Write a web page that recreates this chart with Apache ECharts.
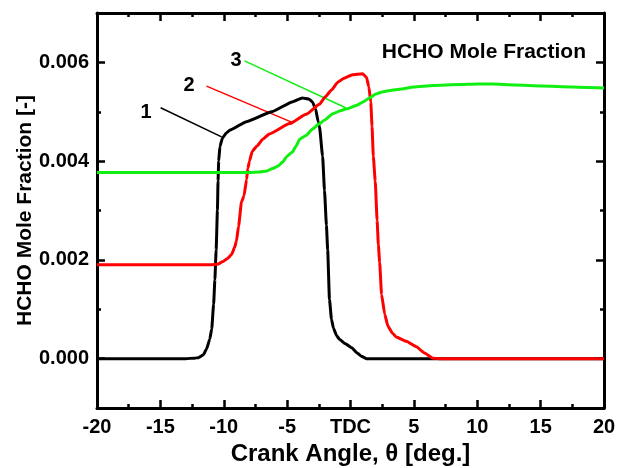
<!DOCTYPE html>
<html>
<head>
<meta charset="utf-8">
<script src="https://cdn.jsdelivr.net/npm/echarts@6/dist/echarts.min.js"></script>
<style>html,body{margin:0;padding:0;background:#fff;}#c{width:628px;height:468px;}</style>
</head>
<body>
<div id="c"></div>
<script>
// ---- data ----
var xTickLabelZero = 'TDC';
var yTickLabels = ['0.000', '0.002', '0.004', '0.006'];

var curve1 = [
  [-20, 0], [-13, 0], [-12.3, 0.00001], [-12.0, 0.00002], [-11.6, 0.00008], [-11.35, 0.0002],
  [-11.1, 0.0004], [-10.95, 0.0006], [-10.8, 0.0011], [-10.7, 0.0016], [-10.6, 0.0022],
  [-10.5, 0.0030], [-10.45, 0.0036], [-10.4, 0.0040], [-10.3, 0.0043], [-10.1, 0.00447],
  [-9.8, 0.00457], [-9.5, 0.00463], [-8.2, 0.0048], [-6.2, 0.0050], [-4.6, 0.0052],
  [-3.8, 0.00528], [-3.3, 0.00526], [-3.0, 0.0052], [-2.75, 0.00505], [-2.55, 0.0048],
  [-2.45, 0.0047], [-2.2, 0.0041], [-2.05, 0.0034], [-1.9, 0.0027], [-1.8, 0.0022],
  [-1.66, 0.0012], [-1.5, 0.0008], [-1.35, 0.00062], [-1.1, 0.00047], [-0.87, 0.00039],
  [-0.4, 0.0003], [0.1, 0.00022], [0.5, 0.00012], [0.85, 0.00005], [1.25, 0], [20, 0]
];
var curve2 = [
  [-20, 0.0019], [-11, 0.0019], [-10.5, 0.00191], [-10.1, 0.00196], [-9.7, 0.00203],
  [-9.38, 0.00211], [-9.15, 0.00225], [-9.0, 0.00238], [-8.83, 0.00268], [-8.6, 0.00317],
  [-8.4, 0.0033], [-8.2, 0.00363], [-8.1, 0.00385], [-7.97, 0.004], [-7.75, 0.0042],
  [-7.4, 0.0043], [-6.9, 0.00445], [-6.4, 0.00455], [-4.8, 0.00476], [-3.5, 0.00495],
  [-2.45, 0.00515], [-2.0, 0.0053], [-1.5, 0.00544], [-1.0, 0.0056], [-0.5, 0.00568],
  [0.16, 0.00575], [0.95, 0.00577], [1.26, 0.0057], [1.45, 0.0055], [1.6, 0.0052],
  [1.7, 0.0047], [1.8, 0.0041], [1.95, 0.0036], [2.1, 0.0028], [2.2, 0.0023],
  [2.3, 0.00195], [2.45, 0.0013], [2.7, 0.0009], [2.95, 0.00066], [3.3, 0.00052],
  [3.6, 0.00044], [4.4, 0.00035], [5.2, 0.00024], [5.8, 0.00012], [6.5, 0.00001],
  [7, 0], [20, 0]
];
var curve3 = [
  [-20, 0.00377], [-8, 0.00377], [-7.2, 0.00378], [-6.6, 0.0038], [-6.15, 0.00385],
  [-5.7, 0.0039], [-5.36, 0.00398], [-5.0, 0.0041], [-4.6, 0.00418], [-4.3, 0.0043],
  [-4.0, 0.00445], [-3.5, 0.00452], [-3.0, 0.00465], [-2.5, 0.00475], [-2.0, 0.00484],
  [-1.4, 0.00496], [-0.8, 0.00502], [-0.3, 0.00506], [0.5, 0.00513], [1.0, 0.0052],
  [1.5, 0.00528], [2.0, 0.00536], [2.5, 0.0054], [3.1, 0.00543], [4.0, 0.00546],
  [5.0, 0.0055], [6.5, 0.00553], [8.6, 0.00555], [10, 0.00556], [11.2, 0.00556],
  [13, 0.00554], [15.1, 0.00552], [17.5, 0.0055], [20, 0.00548]
];
var ann1 = [[-14.98, 0.00508], [-10.17, 0.00449]];
var ann2 = [[-11.36, 0.00552], [-4.65, 0.00479]];
var ann3 = [[-8.36, 0.00603], [-0.39, 0.00508]];
var annLabels = ['1', '2', '3'];

// ---- chart ----
var FONT = '"Liberation Sans", Arial, sans-serif';
var annLabelStyle = [
  {distance: 8, offset: [0, 5]},
  {distance: 11, offset: [0, -1]},
  {distance: 2, offset: [0, 0]}
];
var chart = echarts.init(document.getElementById('c'), null, {renderer: 'canvas'});

function annSeries(d, color) {
  return {type: 'line', data: d, showSymbol: false, symbol: 'none',
    lineStyle: {color: color, width: 1.5}, silent: true, z: 3};
}
function mainSeries(d, color, z) {
  return {type: 'line', data: d, showSymbol: false, symbol: 'none', smooth: 0.15, smoothMonotone: 'x',
    lineStyle: {color: color, width: 3}, z: z, silent: true};
}

var axisLine = {show: true, onZero: false, lineStyle: {color: '#000', width: 3}};
var option = {
  animation: false,
  backgroundColor: '#fff',
  title: {text: 'HCHO Mole Fraction', right: 37, top: 37,
    textStyle: {fontSize: 21, fontWeight: 'bold', color: '#000', fontFamily: FONT}},
  grid: {left: 97, right: 24, top: 13, bottom: 60, containLabel: false, outerBoundsMode: 'none'},
  xAxis: [
    {type: 'value', position: 'bottom', min: -20, max: 20, interval: 5,
      axisLine: axisLine,
      axisTick: {inside: true, length: 8, lineStyle: {color: '#000', width: 2.5}},
      minorTick: {show: true, splitNumber: 2, length: 4, lineStyle: {color: '#000', width: 2.5}},
      splitLine: {show: false}, minorSplitLine: {show: false},
      axisLabel: {fontSize: 20, fontWeight: 'bold', color: '#000', fontFamily: FONT, margin: 9,
        formatter: function (v) { return v === 0 ? xTickLabelZero : String(v); }},
      name: 'Crank Angle, \u03b8 [deg.]', nameLocation: 'middle', nameGap: 30,
      nameTextStyle: {fontSize: 24, fontWeight: 'bold', color: '#000', fontFamily: FONT}},
    {type: 'value', position: 'top', min: -20, max: 20, interval: 5,
      axisLine: axisLine,
      axisTick: {inside: true, length: 8, lineStyle: {color: '#000', width: 2.5}},
      minorTick: {show: true, splitNumber: 2, length: 4, lineStyle: {color: '#000', width: 2.5}},
      splitLine: {show: false}, axisLabel: {show: false}}
  ],
  yAxis: [
    {type: 'value', position: 'left', min: -0.001, max: 0.007, interval: 0.001,
      axisLine: axisLine,
      axisTick: {inside: true, length: 4, lineStyle: {color: '#000', width: 2.5}},
      splitLine: {show: false}, axisLabel: {show: false},
      name: 'HCHO Mole Fraction [-]', nameLocation: 'middle', nameGap: 61,
      nameTextStyle: {fontSize: 21, fontWeight: 'bold', color: '#000', fontFamily: FONT}},
    {type: 'value', position: 'right', min: -0.001, max: 0.007, interval: 0.001,
      axisLine: axisLine,
      axisTick: {inside: true, length: 4, lineStyle: {color: '#000', width: 2.5}},
      splitLine: {show: false}, axisLabel: {show: false}},
    {type: 'category', position: 'left', data: yTickLabels, boundaryGap: true,
      axisLine: {show: false, onZero: false},
      axisTick: {show: true, alignWithLabel: true, inside: true, length: 8, lineStyle: {color: '#000', width: 2.5}},
      splitLine: {show: false},
      axisLabel: {fontSize: 20, fontWeight: 'bold', color: '#000', fontFamily: FONT, margin: 8}},
    {type: 'category', position: 'right', data: yTickLabels, boundaryGap: true,
      axisLine: {show: false, onZero: false},
      axisTick: {show: true, alignWithLabel: true, inside: true, length: 8, lineStyle: {color: '#000', width: 2.5}},
      splitLine: {show: false}, axisLabel: {show: false}}
  ],
  series: [
    mainSeries(curve1, '#000000', 4),
    mainSeries(curve2, '#ff0000', 5),
    mainSeries(curve3, '#11ee11', 6),
    annSeries(ann1, '#000000'),
    annSeries(ann2, '#ff0000'),
    annSeries(ann3, '#11ee11'),
    {type: 'scatter', silent: true, symbol: 'circle', symbolSize: 2, z: 7,
      itemStyle: {color: 'rgba(255,255,255,0)', opacity: 1},
      data: [ann1[0], ann2[0], ann3[0]].map(function (p, i) {
        return {value: p, label: {show: true, formatter: annLabels[i], color: '#000', opacity: 1,
          position: 'left', distance: annLabelStyle[i].distance, offset: annLabelStyle[i].offset,
          fontSize: 20, fontWeight: 'bold', fontFamily: FONT}};
      }),
      label: {show: true, position: 'left', fontSize: 20, fontWeight: 'bold', color: '#000', fontFamily: FONT}}
  ]
};
chart.setOption(option);
</script>
</body>
</html>
